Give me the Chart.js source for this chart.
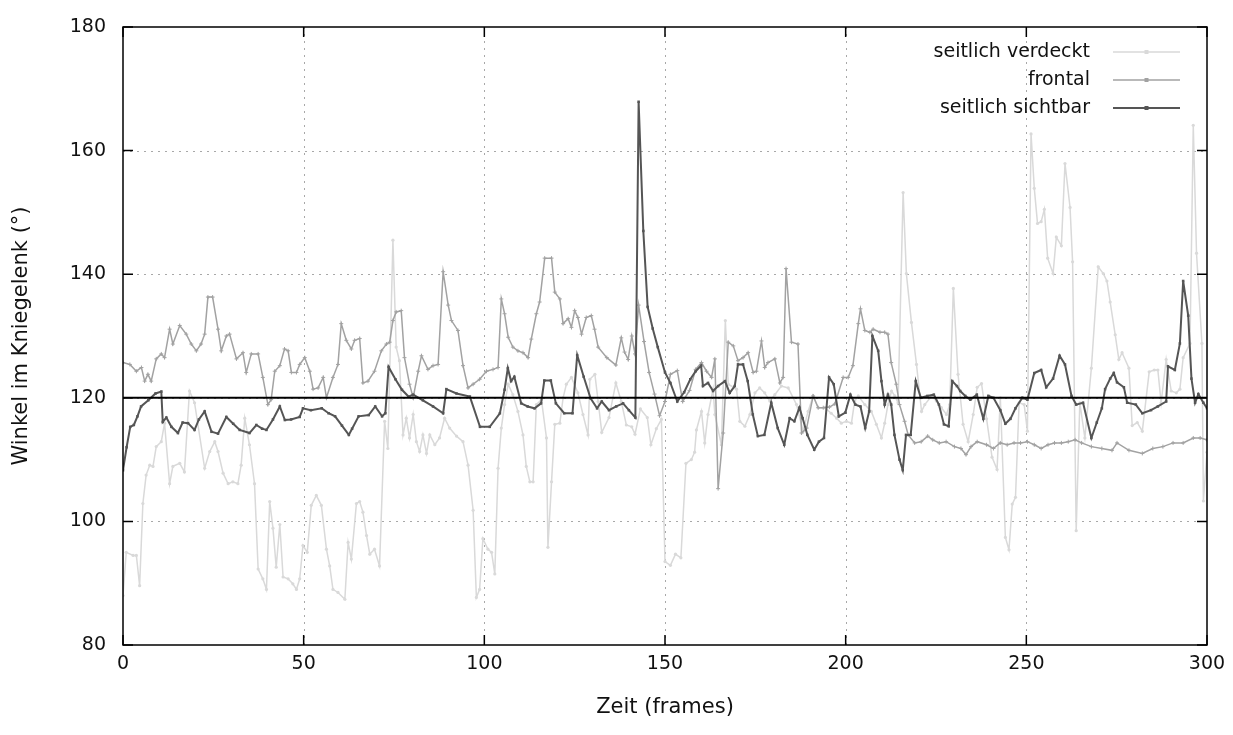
<!DOCTYPE html>
<html>
<head>
<meta charset="utf-8">
<script src="https://cdn.jsdelivr.net/npm/chart.js@4.4.1/dist/chart.umd.min.js"></script>
<style>
  html, body { margin: 0; background: #fff; }
  #wrap { width: 1233px; height: 735px; }
</style>
</head>
<body>
<div id="wrap"><canvas id="chart"></canvas></div>
<script>
// Achsen
const xTicks = [0, 50, 100, 150, 200, 250, 300];
const yTicks = [80, 100, 120, 140, 160, 180];
const schwelle = 120;

// [frame, winkel]
const verdeckt = [[0,88],[0.9,95],[2.8,94.5],[3.7,94.5],[4.6,89.6],[5.5,102.9],[6.4,107.5],[7.4,109.1],[8.3,108.9],[9.2,112.1],[10.6,112.9],[11.5,115.9],[12.9,106.1],[13.8,108.9],[15.7,109.4],[17,108],[18.4,121.1],[19.8,119.2],[22.6,108.6],[24,111.3],[25.4,112.9],[26.3,111.3],[27.7,107.8],[29.1,106.1],[30.4,106.4],[31.8,106.1],[32.7,109.1],[33.7,116.7],[35,112.4],[36.4,106.1],[37.4,92.3],[38.7,90.7],[39.7,89],[40.6,103.2],[41.5,98.9],[42.4,92.6],[43.4,99.5],[44.3,91],[45.7,90.7],[47,89.9],[48,89],[48.9,90.7],[49.8,96.1],[51,95],[52.1,102.6],[53.5,104.2],[54.9,102.6],[56.3,95.5],[57.2,92.8],[58.1,89],[59.5,88.5],[61.4,87.4],[62.3,96.6],[63.2,93.9],[64.6,102.9],[65.5,103.2],[66.4,101.5],[67.4,97.7],[68.3,94.7],[69.6,95.5],[71,92.8],[72.4,116.2],[73.3,111.8],[74.7,145.5],[75.6,128.2],[76.5,126],[77.5,114],[78.4,116.7],[79.3,113.5],[80.3,117.3],[81.2,112.9],[82.1,111.3],[83,114],[84,111],[84.9,114],[86.3,112.4],[87.6,113.5],[89,116.7],[90.4,115.1],[92.3,113.8],[94.1,112.9],[95.5,109.1],[96.9,101.8],[97.8,87.7],[98.7,89],[99.6,97.2],[101,95.5],[102,95],[102.9,91.5],[103.8,108.6],[104.7,115.1],[105.6,118.9],[106.6,122.2],[107.9,120.5],[109.3,117.8],[110.7,114],[111.6,108.9],[112.6,106.4],[113.5,106.4],[114.4,118.9],[115.8,119.7],[117.2,113.5],[117.6,95.8],[118.6,106.4],[119.5,115.7],[120.9,115.9],[121.8,120],[122.7,122.2],[124.1,123.3],[125.9,120.8],[127.3,117.3],[128.7,114],[129.2,123],[130.6,123.8],[131.5,119.4],[132.5,114.4],[134.5,116.8],[136.4,122.4],[137.9,119.4],[139.3,115.6],[140.8,115.3],[141.7,114.1],[143.2,118.2],[145.1,116.8],[146.1,112.4],[147.6,115],[149,116.5],[150,93.5],[151.5,92.9],[152.9,94.7],[154.4,94.1],[155.8,109.4],[157.3,110],[158.2,111.2],[158.7,114.8],[160.1,117.8],[161,112.7],[161.9,117.3],[163.3,121.4],[163.8,117.3],[165.6,112.4],[166.7,132.5],[167.5,122.2],[169.8,121.4],[170.7,116.2],[172.1,115.4],[173.5,117.3],[174.9,120.8],[176.2,121.6],[177.6,120.8],[179,119.5],[180.4,120.5],[182.2,121.9],[184.1,121.6],[186.4,118.9],[188.2,114.6],[189.6,117.8],[191,120.3],[192.4,118.4],[194.2,118.4],[196,117.5],[197.5,116.7],[198.8,115.9],[200.2,116.2],[201.6,115.9],[202.5,119.5],[203.5,120.3],[205.3,118.9],[207.1,117.8],[208.5,115.7],[209.9,113.5],[210.8,115.9],[211.7,118.9],[212.7,121.1],[213.6,120.3],[214.5,119.2],[215.9,153.2],[216.8,140.1],[218.2,132.2],[219.6,125.4],[221,117.8],[221.9,118.9],[223.8,120.3],[225.1,119.5],[226.5,118.4],[227.9,117.3],[228.8,118.9],[229.8,137.7],[231.1,123.8],[232.5,115.7],[233.9,112.9],[235.3,117.3],[236.4,121.7],[237.6,122.3],[239,116.6],[240.5,110.4],[241.9,108.4],[242.8,120],[244.2,97.4],[245.2,95.4],[246.1,102.8],[247,103.9],[248,119.2],[249.4,118.9],[250.3,114.6],[251.3,162.7],[252.2,153.9],[253.1,148.2],[254.1,148.5],[255,150.5],[255.9,142.6],[257.4,140.1],[258.3,146],[259.7,144.6],[260.7,157.9],[262.1,150.8],[262.8,142],[263.8,98.5],[264.8,119.2],[266.2,113.5],[268,124.8],[269.9,141.2],[271.3,140.1],[272.3,138.9],[273.2,135.5],[274.6,130.2],[275.6,126.2],[276.5,127.3],[278.4,124.8],[279.3,115.5],[280.7,116],[282.1,114.6],[284,124.2],[285.4,124.5],[286.4,124.5],[287.3,119.2],[288.7,126.2],[290.1,121.1],[291.5,120.8],[292.5,121.4],[293.4,126.5],[295.3,128.8],[296.2,164.1],[297.1,143.4],[298.6,128.8],[299,103.3],[300,111.2]];

const frontal = [[0,125.7],[1.9,125.4],[3.7,124.3],[5.1,124.9],[6,122.7],[6.9,123.8],[7.8,122.7],[9.2,126.3],[10.6,127.1],[11.5,126.5],[12.9,131.1],[13.8,128.7],[15.7,131.7],[17.5,130.3],[18.9,128.7],[20.3,127.6],[21.6,128.7],[22.6,130.3],[23.5,136.3],[24.8,136.3],[26.3,131.1],[27.2,127.6],[28.6,130],[29.5,130.3],[31.4,126.3],[33.2,127.3],[34.1,124.1],[35.5,127.1],[37.4,127.1],[38.7,123.3],[40.1,118.9],[41,119.7],[42,124.3],[43.4,125.2],[44.7,127.9],[45.7,127.6],[46.6,124.1],[48,124.1],[48.9,125.4],[50.3,126.5],[51.7,124.3],[52.6,121.4],[54,121.6],[55.4,123.3],[56.3,120],[58.1,123.3],[59.5,125.4],[60.4,132],[61.8,129.3],[63.2,127.9],[64.1,129.3],[65.5,129.6],[66.4,122.4],[67.8,122.7],[69.6,124.3],[71.5,127.6],[72.9,128.7],[73.8,129],[74.7,132.5],[75.6,133.9],[77,134.1],[77.9,126.5],[79.3,122.2],[80.3,120],[81.7,124.3],[82.6,126.8],[84.4,124.6],[85.8,125.2],[87.2,125.4],[88.6,140.4],[90,135],[90.9,132.5],[92.7,130.9],[94.1,125.2],[95.5,121.6],[96.9,122.2],[98.7,123],[100.6,124.3],[102.4,124.6],[103.8,124.9],[104.7,136],[105.6,133.6],[106.6,129.8],[107.9,128.2],[109.3,127.6],[110.7,127.3],[112.1,126.5],[113,129.5],[114.4,133.6],[115.3,135.5],[116.7,142.6],[118.6,142.6],[119.5,137.1],[120.9,136],[121.8,132],[123.2,132.8],[124.1,131.4],[125,134.1],[125.9,133],[126.9,130.3],[128.2,133],[129.6,133.3],[130.5,131.1],[131.5,128.2],[133.9,126.5],[136.4,125.3],[137.9,129.7],[138.8,127.4],[139.8,126.2],[140.8,130],[141.7,127.1],[142.7,135],[144.2,129.1],[145.6,124.1],[147.1,120.6],[148.5,117.1],[150,119.4],[151.5,123.8],[153.4,124.4],[154.9,119.4],[156.8,121.2],[158.5,124.6],[160.1,125.7],[161.5,124.3],[162.9,123.3],[163.8,126.3],[164.7,105.3],[166.1,114.3],[167.5,129],[168.9,128.4],[170.2,126],[171.6,126.5],[173,127.3],[174.4,124.1],[175.3,124.3],[176.7,129.2],[177.6,124.9],[178.5,125.7],[180.4,126.3],[181.8,122.4],[182.7,123.3],[183.5,140.9],[185,129],[186.8,128.7],[187.8,114.3],[189.2,115.1],[191,120.3],[192.4,118.4],[193.8,118.4],[195.5,118.5],[197,119],[199.3,123.3],[200.7,123.3],[202,125.2],[203.5,132],[204.1,134.4],[205.3,130.9],[206.7,130.6],[207.6,131.1],[209.5,130.6],[210.8,130.6],[211.7,130.3],[212.6,125.7],[214,122.2],[214.9,118.9],[216.3,116.2],[217.3,114],[219.1,112.7],[220.9,112.9],[222.7,113.8],[224.1,113.2],[225.9,112.7],[227.8,112.9],[230.1,112.1],[231.9,111.8],[233.3,110.8],[234.7,112.1],[236.4,112.9],[239,112.4],[240.9,111.8],[242.8,112.7],[244.7,112.4],[246.6,112.7],[248.4,112.7],[250.3,112.9],[252.2,112.4],[254.1,111.8],[256,112.4],[257.8,112.7],[259.7,112.7],[261.6,112.9],[263.5,113.2],[265.3,112.7],[268,112.1],[270.9,111.8],[273.7,111.5],[275.1,112.7],[278.4,111.5],[282.1,111],[285,111.8],[287.8,112.1],[290.6,112.7],[293.4,112.7],[296.2,113.5],[298.1,113.5],[300,113.2]];

const sichtbar = [[0,108.3],[1,112],[2,115.3],[3,115.6],[4,117],[5,118.6],[7,119.6],[9,120.7],[10.6,121],[11,116.1],[12,116.8],[13.4,115.3],[15.2,114.3],[16.5,116],[18,115.9],[19.8,114.8],[21,116.5],[22.6,117.8],[24.5,114.5],[26.3,114.2],[28.6,116.9],[30.5,115.8],[32.3,114.8],[35,114.3],[36.9,115.6],[38.5,115],[39.7,114.8],[41.5,116.5],[43.4,118.6],[44.8,116.4],[46.5,116.5],[48.9,116.9],[49.8,118.3],[52,118],[55,118.3],[56.9,117.5],[58.7,117],[60.6,115.5],[62.5,114],[63.4,115],[65.2,117],[68,117.2],[69.8,118.6],[71.7,117],[72.6,117.5],[73.5,125],[75.4,123],[77.2,121.3],[79,120.2],[80.3,120.5],[83,119.6],[85.8,118.6],[88.6,117.5],[89.5,121.4],[92.3,120.7],[96,120.2],[98.8,115.3],[101.5,115.3],[104.3,117.5],[105.6,121.3],[106.5,124.8],[107.4,122.7],[108.3,123.4],[110.2,119.1],[112,118.6],[113.9,118.3],[115.7,119.1],[116.6,122.8],[118.4,122.8],[119.8,119.1],[122.1,117.5],[124.4,117.5],[125.7,126.9],[127.5,123.4],[129.4,119.9],[131.2,118.3],[132.5,119.4],[134.5,118],[136.5,118.6],[138.4,119.1],[140,118],[141.8,116.8],[142.7,167.9],[144,147],[145.2,134.7],[146.6,131.2],[148,128.2],[150,124.1],[151.5,122.4],[153.4,119.4],[155.3,120.9],[157,123],[158.5,124.3],[160,125.2],[160.5,121.9],[161.9,122.4],[163.3,121.1],[164.7,121.9],[166.6,122.7],[167.9,120.8],[169.3,121.9],[170.2,125.4],[171.6,125.4],[172.9,122.7],[174.3,117.3],[175.7,113.8],[177.5,114],[179.4,119.2],[181.2,115.1],[183,112.4],[184.5,116.7],[185.8,116.2],[187.2,118.4],[188.1,116.7],[189.4,114],[191.3,111.6],[192.6,112.9],[194,113.5],[195.4,123.3],[196.7,122.2],[198.1,117],[199.9,117.6],[201.3,120.5],[202.7,118.9],[204.1,118.6],[205.4,115.1],[206.5,117.8],[207.4,130],[209,127.6],[209.9,122.7],[210.8,118.9],[211.7,120.5],[212.6,118.9],[213.5,114],[214.9,110],[215.8,108.3],[216.7,114],[218,114],[219.4,122.7],[220.8,120],[222.6,120.3],[224.4,120.5],[225.8,118.9],[227.2,115.7],[228.5,115.4],[229.5,122.7],[230.8,121.9],[231.7,121.1],[233.1,120.3],[234.5,119.7],[236.3,120.5],[238.1,116.6],[239.5,120.3],[240.9,120],[242.8,118],[244.2,115.8],[245.6,116.6],[247,118.3],[248.9,120],[250.3,119.7],[252.2,124],[254.1,124.5],[255.5,121.7],[257.4,123.1],[259.2,126.8],[260.7,125.4],[262.5,120.3],[263.8,118.9],[265.7,119.2],[268,113.5],[269.5,116],[270.9,118.3],[271.8,121.4],[273.2,123.1],[274.2,124],[275.1,122.5],[277,121.7],[277.9,119.2],[280.3,118.9],[282.1,117.5],[284.5,118],[286.4,118.6],[288.7,119.4],[289.2,125.1],[291.1,124.5],[292.5,128.8],[293.4,138.9],[294.8,133.3],[295.7,123.1],[296.7,119.2],[297.6,120.6],[299,119.2],[300,118.3]];

function toXY(arr) {
  return arr.map(p => ({ x: p[0], y: p[1] }));
}

const FONT = "'DejaVu Sans', Verdana, sans-serif";

// gnuplot-artiges Gitter, Rahmen und Ticks nach innen
const gnuGrid = {
  id: "gnuGrid",
  beforeDatasetsDraw(chart) {
    const { ctx, chartArea: a, scales } = chart;
    ctx.save();
    ctx.strokeStyle = "#a8a8a8";
    ctx.lineWidth = 1;
    ctx.setLineDash([2, 5]);
    xTicks.forEach(v => {
      if (v === 0 || v === 300) return;
      const x = Math.round(scales.x.getPixelForValue(v)) + 0.5;
      ctx.beginPath(); ctx.moveTo(x, a.top); ctx.lineTo(x, a.bottom); ctx.stroke();
    });
    yTicks.forEach(v => {
      if (v === 80 || v === 180) return;
      const y = Math.round(scales.y.getPixelForValue(v)) + 0.5;
      ctx.beginPath(); ctx.moveTo(a.left, y); ctx.lineTo(a.right, y); ctx.stroke();
    });
    ctx.restore();
  },
  afterDatasetsDraw(chart) {
    const { ctx, chartArea: a, scales } = chart;
    ctx.save();
    ctx.strokeStyle = "#000";
    ctx.lineWidth = 1.5;
    ctx.strokeRect(a.left, a.top, a.right - a.left, a.bottom - a.top);
    const len = 10;
    xTicks.forEach(v => {
      const x = scales.x.getPixelForValue(v);
      ctx.beginPath();
      ctx.moveTo(x, a.bottom); ctx.lineTo(x, a.bottom - len);
      ctx.moveTo(x, a.top); ctx.lineTo(x, a.top + len);
      ctx.stroke();
    });
    yTicks.forEach(v => {
      const y = scales.y.getPixelForValue(v);
      ctx.beginPath();
      ctx.moveTo(a.left, y); ctx.lineTo(a.left + len, y);
      ctx.moveTo(a.right, y); ctx.lineTo(a.right - len, y);
      ctx.stroke();
    });
    ctx.restore();
  }
};

// Legende rechts oben: Text rechtsbuendig, Linienmuster rechts daneben
const gnuLegend = {
  id: "gnuLegend",
  afterDraw(chart) {
    const { ctx, chartArea: a } = chart;
    ctx.save();
    ctx.font = "19px " + FONT;
    ctx.textAlign = "right";
    ctx.textBaseline = "middle";
    let y = a.top + 25;
    chart.data.datasets.forEach(ds => {
      if (!ds.label) return;
      ctx.fillStyle = "#111";
      ctx.fillText(ds.label, a.right - 117, y);
      const x0 = a.right - 94, x1 = a.right - 27;
      ctx.strokeStyle = ds.borderColor;
      ctx.lineWidth = ds.borderWidth;
      ctx.beginPath(); ctx.moveTo(x0, y); ctx.lineTo(x1, y); ctx.stroke();
      ctx.fillStyle = ds.borderColor;
      ctx.fillRect((x0 + x1) / 2 - 2, y - 2, 4, 4);
      y += 28;
    });
    ctx.restore();
  }
};

new Chart(document.getElementById("chart"), {
  type: "line",
  data: {
    datasets: [
      {
        label: "seitlich verdeckt",
        data: toXY(verdeckt),
        borderColor: "#d9d9d9",
        backgroundColor: "#d9d9d9",
        borderWidth: 1.5,
        pointStyle: "circle",
        pointRadius: 1.6,
        pointBorderWidth: 0,
        order: 4
      },
      {
        label: "frontal",
        data: toXY(frontal),
        borderColor: "#a2a2a2",
        backgroundColor: "#a2a2a2",
        borderWidth: 1.5,
        pointStyle: "cross",
        pointRadius: 2,
        pointBorderWidth: 1,
        order: 3
      },
      {
        label: "seitlich sichtbar",
        data: toXY(sichtbar),
        borderColor: "#555555",
        backgroundColor: "#555555",
        borderWidth: 2,
        pointStyle: "rect",
        pointRadius: 1.8,
        pointBorderWidth: 0,
        order: 2
      },
      {
        label: "",
        data: [{ x: xTicks[0], y: schwelle }, { x: xTicks[xTicks.length - 1], y: schwelle }],
        borderColor: "#000",
        borderWidth: 2,
        pointRadius: 0,
        order: 1
      }
    ]
  },
  options: {
    responsive: true,
    maintainAspectRatio: false,
    animation: false,
    devicePixelRatio: 1,
    layout: { padding: { top: 27, right: 26, left: 0, bottom: 0 } },
    plugins: {
      legend: { display: false },
      tooltip: { enabled: false }
    },
    elements: { line: { tension: 0 } },
    scales: {
      x: {
        type: "linear",
        min: 0,
        max: 300,
        afterFit: s => { s.height = 90; },
        afterBuildTicks: s => { s.ticks = xTicks.map(v => ({ value: v })); },
        ticks: { color: "#111", font: { family: FONT, size: 19 }, padding: 0, maxRotation: 0 },
        grid: { display: false },
        border: { display: false },
        title: { display: true, text: "Zeit (frames)", color: "#111", font: { family: FONT, size: 21 }, padding: { top: 0, bottom: 15 } }
      },
      y: {
        min: 80,
        max: 180,
        afterFit: s => { s.width = 123; },
        afterBuildTicks: s => { s.ticks = yTicks.map(v => ({ value: v })); },
        ticks: { color: "#111", font: { family: FONT, size: 19 }, padding: 9 },
        grid: { display: false },
        border: { display: false },
        title: { display: true, text: "Winkel im Kniegelenk (°)", color: "#111", font: { family: FONT, size: 21 }, padding: { top: 9, bottom: 0 } }
      }
    }
  },
  plugins: [gnuGrid, gnuLegend]
});
</script>
</body>
</html>
